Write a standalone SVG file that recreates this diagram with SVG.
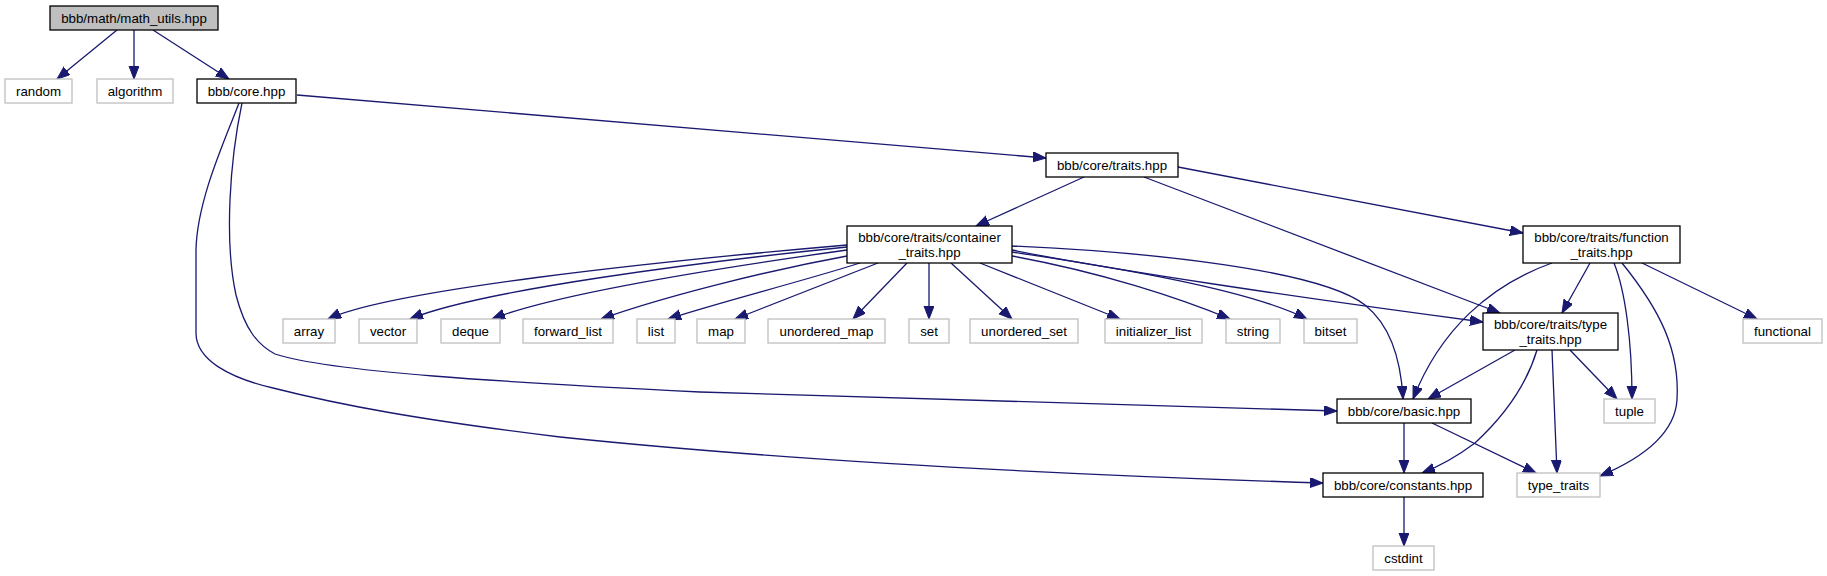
<svg xmlns="http://www.w3.org/2000/svg" width="1827" height="576" viewBox="0 0 1827 576">
<defs>
<style>
.n rect{fill:#fff;stroke:#000;stroke-width:1.3}
.x rect{fill:#fff;stroke:#bfbfbf;stroke-width:1.3}
.r rect{fill:#bfbfbf;stroke:#000;stroke-width:1.3}
text{font-family:"Liberation Sans",Arial,Helvetica,sans-serif;font-size:13.3px;text-anchor:middle;fill:#000}
#edges path{fill:none;stroke:#191970;stroke-width:1.3;marker-end:url(#a)}
</style>
<marker id="a" markerWidth="14" markerHeight="11" refX="13" refY="5" orient="auto" markerUnits="userSpaceOnUse">
<path d="M0,0 L13,5 L0,10 Z" fill="#191970" stroke="#191970" stroke-width="1"/>
</marker>
</defs>
<rect width="1827" height="576" fill="#fff"/>
<g id="edges">
<path d="M117,30 L57,79"/>
<path d="M134,30 L134,79"/>
<path d="M153,30 L229,79"/>
<path d="M297,95 L1046,158"/>
<path d="M242,103 C230,160 224,240 236,295 C245,330 258,345 275,354 C330,372 500,382 700,392 L1337,411"/>
<path d="M239,103 C225,140 197,200 196,250 L196,333 C196,360 230,378 273,388 C340,405 420,420 560,437 C800,462 1100,476 1323,483"/>
<path d="M1084,177 L976,226"/>
<path d="M1144,177 L1500,313"/>
<path d="M1178,167 L1523,233"/>
<path d="M847,245 C650,262 390,290 328,319"/>
<path d="M847,247 C700,262 480,290 410,319"/>
<path d="M847,250 C740,265 560,292 492,319"/>
<path d="M847,256 C760,272 660,298 601,319"/>
<path d="M860,263 C800,282 720,302 668,319"/>
<path d="M878,263 L735,319"/>
<path d="M907,263 L853,319"/>
<path d="M929,263 L929,319"/>
<path d="M951,263 L1012,319"/>
<path d="M980,263 L1120,319"/>
<path d="M1012,256 C1100,272 1180,298 1230,319"/>
<path d="M1012,252 C1120,268 1250,290 1307,319"/>
<path d="M1012,250 C1100,268 1300,298 1483,322"/>
<path d="M1012,246 C1150,252 1320,270 1365,305 C1390,325 1401,360 1403,399"/>
<path d="M1552,263 C1490,285 1440,330 1413,399"/>
<path d="M1590,263 L1562,313"/>
<path d="M1614,263 C1625,290 1632,340 1632,399"/>
<path d="M1622,263 C1660,310 1680,350 1677,400 C1675,430 1650,455 1600,476"/>
<path d="M1642,263 L1757,319"/>
<path d="M1515,350 L1428,399"/>
<path d="M1537,350 C1525,390 1500,420 1475,443 C1455,458 1440,466 1422,473"/>
<path d="M1552,350 L1557,473"/>
<path d="M1570,350 L1617,399"/>
<path d="M1404,423 L1404,473"/>
<path d="M1432,423 L1536,473"/>
<path d="M1404,497 L1404,546"/>
</g>
<g id="math_utils" class="r"><rect x="50" y="6" width="168" height="24"/><text x="134" y="22.7">bbb/math/math_utils.hpp</text></g>
<g id="random" class="x"><rect x="5" y="79" width="67" height="24"/><text x="38.5" y="95.7">random</text></g>
<g id="algorithm" class="x"><rect x="97" y="79" width="76" height="24"/><text x="135" y="95.7">algorithm</text></g>
<g id="core" class="n"><rect x="197" y="79" width="99" height="24"/><text x="246.5" y="95.7">bbb/core.hpp</text></g>
<g id="traits" class="n"><rect x="1046" y="153" width="132" height="24"/><text x="1112" y="169.7">bbb/core/traits.hpp</text></g>
<g id="container_traits" class="n"><rect x="847" y="226" width="165" height="37"/><text x="929.5" y="241.7">bbb/core/traits/container</text><text x="929.5" y="256.7">_traits.hpp</text></g>
<g id="function_traits" class="n"><rect x="1523" y="226" width="157" height="37"/><text x="1601.5" y="241.7">bbb/core/traits/function</text><text x="1601.5" y="256.7">_traits.hpp</text></g>
<g id="array" class="x"><rect x="283" y="319" width="52" height="24"/><text x="309" y="335.7">array</text></g>
<g id="vector" class="x"><rect x="359" y="319" width="58" height="24"/><text x="388" y="335.7">vector</text></g>
<g id="deque" class="x"><rect x="441" y="319" width="59" height="24"/><text x="470.5" y="335.7">deque</text></g>
<g id="forward_list" class="x"><rect x="523" y="319" width="90" height="24"/><text x="568" y="335.7">forward_list</text></g>
<g id="list" class="x"><rect x="637" y="319" width="38" height="24"/><text x="656" y="335.7">list</text></g>
<g id="map" class="x"><rect x="697" y="319" width="48" height="24"/><text x="721" y="335.7">map</text></g>
<g id="unordered_map" class="x"><rect x="768" y="319" width="117" height="24"/><text x="826.5" y="335.7">unordered_map</text></g>
<g id="set" class="x"><rect x="909" y="319" width="40" height="24"/><text x="929" y="335.7">set</text></g>
<g id="unordered_set" class="x"><rect x="970" y="319" width="108" height="24"/><text x="1024" y="335.7">unordered_set</text></g>
<g id="initializer_list" class="x"><rect x="1105" y="319" width="97" height="24"/><text x="1153.5" y="335.7">initializer_list</text></g>
<g id="string" class="x"><rect x="1226" y="319" width="54" height="24"/><text x="1253" y="335.7">string</text></g>
<g id="bitset" class="x"><rect x="1304" y="319" width="53" height="24"/><text x="1330.5" y="335.7">bitset</text></g>
<g id="type_traits_hpp" class="n"><rect x="1483" y="313" width="135" height="37"/><text x="1550.5" y="328.7">bbb/core/traits/type</text><text x="1550.5" y="343.7">_traits.hpp</text></g>
<g id="functional" class="x"><rect x="1743" y="319" width="79" height="24"/><text x="1782.5" y="335.7">functional</text></g>
<g id="basic" class="n"><rect x="1337" y="399" width="134" height="24"/><text x="1404" y="415.7">bbb/core/basic.hpp</text></g>
<g id="tuple" class="x"><rect x="1604" y="399" width="51" height="24"/><text x="1629.5" y="415.7">tuple</text></g>
<g id="constants" class="n"><rect x="1323" y="473" width="160" height="24"/><text x="1403" y="489.7">bbb/core/constants.hpp</text></g>
<g id="type_traits" class="x"><rect x="1517" y="473" width="83" height="24"/><text x="1558.5" y="489.7">type_traits</text></g>
<g id="cstdint" class="x"><rect x="1373" y="546" width="61" height="24"/><text x="1403.5" y="562.7">cstdint</text></g>
</svg>
